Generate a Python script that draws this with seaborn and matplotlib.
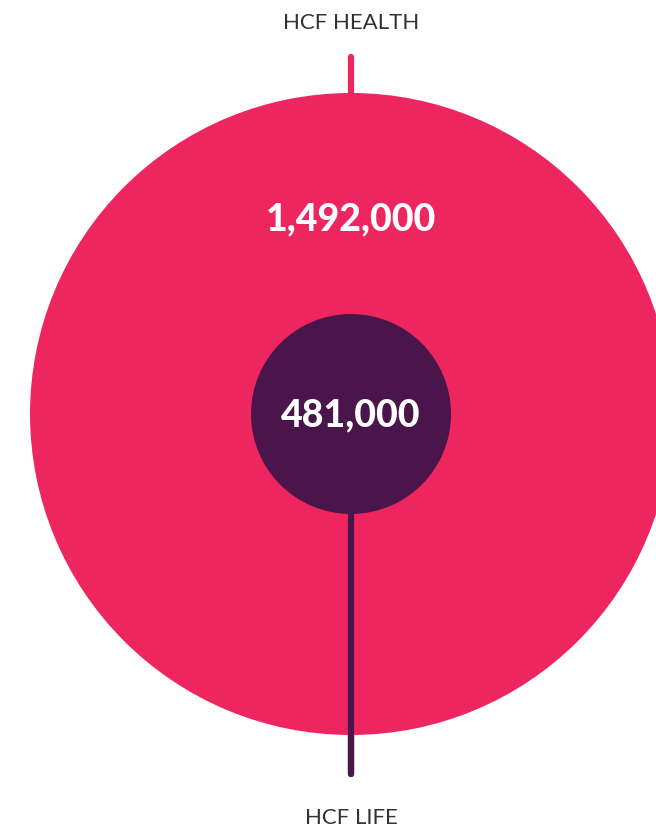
import matplotlib
matplotlib.use("Agg")
import matplotlib.pyplot as plt
from matplotlib.patches import Circle
import seaborn as sns
import pandas as pd

# Data
categories = ["HCF HEALTH", "HCF LIFE"]
members = [1492000, 481000]
value_labels = ["1,492,000", "481,000"]

sns.set_style("white")
plt.rcParams['font.family'] = ['Lato', 'DejaVu Sans']

W, H = 656, 828
fig = plt.figure(figsize=(W / 100, H / 100), dpi=100)
ax = fig.add_axes([0, 0, 1, 1])
ax.set_xlim(0, W)
ax.set_ylim(H, 0)
ax.set_aspect("equal")
ax.axis("off")

pink = "#EE2660"
purple = "#4A154B"
cx, cy = 351, 415
radii = [321, 100]
colors = [pink, purple]

# connector lines drawn via seaborn
lines = pd.DataFrame({
    "x": [cx, cx, cx, cx],
    "y": [58, 110, 500, 775],
    "cat": [categories[0], categories[0], categories[1], categories[1]],
})
sns.lineplot(data=lines, x="x", y="y", hue="cat", units="cat", estimator=None,
             palette={categories[0]: pink, categories[1]: purple},
             linewidth=4.5, legend=False, ax=ax, sort=False,
             solid_capstyle="round", zorder=1)

for r, c, z in zip(radii, colors, [2, 3]):
    ax.add_patch(Circle((cx, cy), r, facecolor=c, edgecolor="none", zorder=z))

# redraw the lower connector on top of the big circle
ax.plot([cx, cx], [515, 775], color=purple, lw=4.5, solid_capstyle="round", zorder=2.5)

ax.text(cx, 219, value_labels[0], ha="center", va="center", color="white",
        fontsize=27, fontweight=900, zorder=5)
ax.text(cx, 415, value_labels[1], ha="center", va="center", color="white",
        fontsize=27, fontweight=900, zorder=5)
ax.text(cx, 23, categories[0], ha="center", va="center", color="#333333",
        fontsize=16, fontweight="normal", zorder=5)
ax.text(cx, 818, categories[1], ha="center", va="center", color="#333333",
        fontsize=16, fontweight="normal", zorder=5)

fig.savefig("out.png", dpi=100)
